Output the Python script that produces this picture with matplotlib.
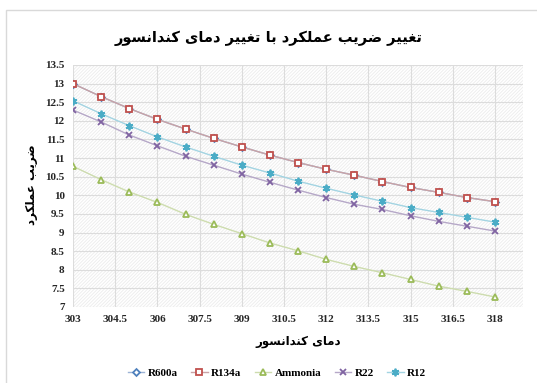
import numpy as np
import matplotlib
matplotlib.use("Agg")
import matplotlib.pyplot as plt
from matplotlib.patches import Rectangle

temps = [303, 304, 305, 306, 307, 308, 309, 310, 311, 312, 313, 314, 315, 316, 317, 318]
r600a = [13.0, 12.65, 12.33, 12.04, 11.78, 11.53, 11.30, 11.08, 10.88, 10.70, 10.54, 10.37, 10.21, 10.08, 9.94, 9.83]
r134a = [13.0, 12.65, 12.33, 12.04, 11.78, 11.53, 11.30, 11.08, 10.88, 10.70, 10.54, 10.37, 10.21, 10.08, 9.94, 9.83]
ammonia = [10.78, 10.42, 10.09, 9.81, 9.49, 9.22, 8.97, 8.72, 8.51, 8.28, 8.09, 7.92, 7.74, 7.56, 7.42, 7.27]
r22 = [12.29, 11.97, 11.62, 11.33, 11.05, 10.81, 10.57, 10.35, 10.14, 9.94, 9.76, 9.62, 9.45, 9.30, 9.17, 9.04]
r12 = [12.54, 12.19, 11.87, 11.57, 11.30, 11.05, 10.81, 10.60, 10.38, 10.19, 10.01, 9.84, 9.67, 9.54, 9.41, 9.28]
xticks = [303, 304.5, 306, 307.5, 309, 310.5, 312, 313.5, 315, 316.5, 318]

title_fa = "تغییر ضریب عملکرد با تغییر دمای کندانسور"
ylabel_fa = "ضریب عملکرد"
xlabel_fa = "دمای کندانسور"

# matplotlib does no arabic shaping, so pick presentation forms by hand
# (isolated, final, initial, medial)
FORMS = {
    'ا': ('\uFE8D', '\uFE8E', None, None),
    'ب': ('\uFE8F', '\uFE90', '\uFE91', '\uFE92'),
    'ت': ('\uFE95', '\uFE96', '\uFE97', '\uFE98'),
    'د': ('\uFEA9', '\uFEAA', None, None),
    'ر': ('\uFEAD', '\uFEAE', None, None),
    'س': ('\uFEB1', '\uFEB2', '\uFEB3', '\uFEB4'),
    'ض': ('\uFEBD', '\uFEBE', '\uFEBF', '\uFEC0'),
    'ع': ('\uFEC9', '\uFECA', '\uFECB', '\uFECC'),
    'غ': ('\uFECD', '\uFECE', '\uFECF', '\uFED0'),
    'ل': ('\uFEDD', '\uFEDE', '\uFEDF', '\uFEE0'),
    'م': ('\uFEE1', '\uFEE2', '\uFEE3', '\uFEE4'),
    'ن': ('\uFEE5', '\uFEE6', '\uFEE7', '\uFEE8'),
    'و': ('\uFEED', '\uFEEE', None, None),
    'ک': ('\uFB8E', '\uFB8F', '\uFB90', '\uFB91'),
    'ی': ('\uFBFC', '\uFBFD', '\uFBFE', '\uFBFF'),
}


def fa(text):
    out = []
    for i, ch in enumerate(text):
        if ch not in FORMS:
            out.append(ch)
            continue
        prev = text[i - 1] if i > 0 else ''
        nxt = text[i + 1] if i + 1 < len(text) else ''
        j_prev = prev in FORMS and FORMS[prev][2] is not None
        j_next = nxt in FORMS and FORMS[ch][2] is not None
        iso, fin, ini, med = FORMS[ch]
        if j_prev and j_next:
            out.append(med)
        elif j_prev:
            out.append(fin)
        elif j_next:
            out.append(ini)
        else:
            out.append(iso)
    return ''.join(reversed(out))


plt.rcParams['hatch.linewidth'] = 0.6

fig = plt.figure(figsize=(5.37, 3.83), dpi=100)
ax = fig.add_axes([73 / 537, 1 - 307 / 383, 450 / 537, 242 / 383])

# outer chart border
fig.patches.append(Rectangle((6 / 537, -0.1), 1.2, 1.1 - 10.5 / 383, transform=fig.transFigure,
                             fill=False, edgecolor='#d9d9d9', linewidth=1.0))

# hatched plot background
ax.add_patch(Rectangle((0, 0), 1, 1, transform=ax.transAxes, facecolor='white',
                       edgecolor='#ececec', hatch='//////////', linewidth=0, zorder=0))

series = [
    ('R600a', r600a, '#4f81bd', '#9db3d6', 'D', 3.5),
    ('R134a', r134a, '#c0504d', '#c9a3a6', 's', 5.0),
    ('Ammonia', ammonia, '#9bbb59', '#cddcae', '^', 5.0),
    ('R22', r22, '#8064a2', '#b6a8c8', 'x', 5.0),
    ('R12', r12, '#4bacc6', '#a3d4e2', (6, 2, 0), 5.5),
]
for name, vals, mc, lc, mk, ms in series:
    ax.plot(temps, vals, color=lc, linewidth=1.0, marker=mk, markersize=ms,
            markerfacecolor='white' if mk in ('D', 's', '^') else mc,
            markeredgecolor=mc, markeredgewidth=1.3, label=name, zorder=3)

ax.set_xlim(303, 319)
ax.set_ylim(7, 13.5)
ax.set_xticks(xticks)
ax.set_xticklabels([f"{t:g}" for t in xticks])
ax.set_yticks(np.arange(7, 13.51, 0.5))
ax.set_yticklabels([f"{v:g}" for v in np.arange(7, 13.51, 0.5)])
ax.grid(True, color='#dcdcdc', linewidth=0.8, zorder=1)
ax.set_axisbelow(True)
for s in ax.spines.values():
    s.set_visible(False)
ax.tick_params(length=0, pad=6)
for lab in ax.get_xticklabels() + ax.get_yticklabels():
    lab.set_fontfamily('Liberation Serif')
    lab.set_fontweight('bold')
    lab.set_fontsize(8)
    lab.set_color('#262626')

fig.text(0.5, 1 - 38 / 383, fa(title_fa), ha='center', va='center', fontsize=10.5,
         fontweight='bold', family='DejaVu Sans')
fig.text(32 / 537, 1 - 185 / 383, fa(ylabel_fa), ha='center', va='center', rotation=90,
         fontsize=8.5, fontweight='bold', family='DejaVu Sans')
fig.text(298 / 537, 1 - 342 / 383, fa(xlabel_fa), ha='center', va='center',
         fontsize=8.5, fontweight='bold', family='DejaVu Sans')

leg = fig.legend(loc='center', bbox_to_anchor=(277 / 537, 1 - 373 / 383), ncol=5, frameon=False,
                 prop={'family': 'Liberation Serif', 'weight': 'bold', 'size': 8},
                 handlelength=1.5, columnspacing=1.2, handletextpad=0.3)

fig.savefig('out.png', dpi=100)
